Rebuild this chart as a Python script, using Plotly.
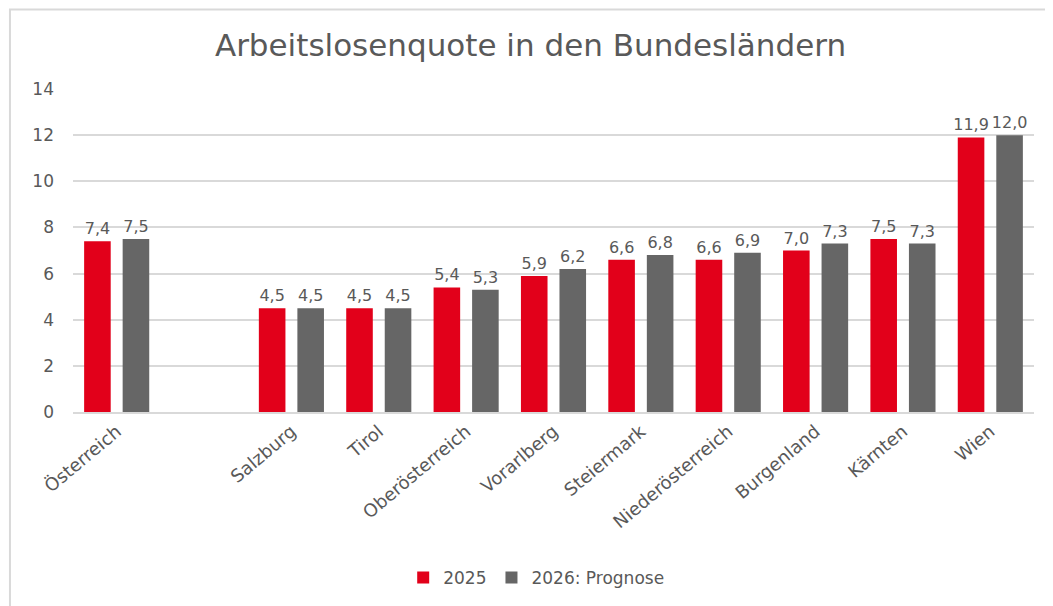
import plotly.graph_objects as go

categories = ["Österreich", " ", "Salzburg", "Tirol", "Oberösterreich", "Vorarlberg",
              "Steiermark", "Niederösterreich", "Burgenland", "Kärnten", "Wien"]
values_2025 = [7.4, None, 4.5, 4.5, 5.4, 5.9, 6.6, 6.6, 7.0, 7.5, 11.9]
values_2026 = [7.5, None, 4.5, 4.5, 5.3, 6.2, 6.8, 6.9, 7.3, 7.3, 12.0]
series_names = ["2025", "2026: Prognose"]
colors = ["#E2001A", "#666666"]
y_ticks = [0, 2, 4, 6, 8, 10, 12, 14]

def fmt(v):
    return "" if v is None else f"{v:.1f}".replace(".", ",")

FONT = "DejaVu Sans, Liberation Sans, Arial, sans-serif"

fig = go.Figure()
for name, vals, col in zip(series_names, [values_2025, values_2026], colors):
    fig.add_trace(go.Bar(
        x=categories, y=vals, name=name,
        marker=dict(color=col, line=dict(width=0)),
        text=[fmt(v) for v in vals], textposition="outside", constraintext="none",
        textfont=dict(size=16, color="#595959"), cliponaxis=False,
    ))

fig.update_layout(
    width=1045, height=598,
    margin=dict(l=65, r=19, t=81, b=193),
    paper_bgcolor="white", plot_bgcolor="white",
    font=dict(family=FONT, color="#595959", size=17),
    title=dict(text="Arbeitslosenquote in den Bundesländern", x=0.5, xanchor="center",
               y=1 - 37 / 598, yanchor="middle", font=dict(size=31, color="#595959")),
    barmode="group", bargap=0.118, bargroupgap=0.31,
    showlegend=True,
    legend=dict(orientation="h", x=0.482, xanchor="center", y=-0.509, yanchor="middle",
                font=dict(size=17, color="#595959"), itemwidth=30),
    xaxis=dict(type="category", categoryorder="array", categoryarray=categories,
               tickangle=-40, showline=True, linecolor="#d9d9d9", linewidth=2,
               tickfont=dict(size=18, color="#595959"), ticks=""),
    yaxis=dict(range=[0, 14], tickvals=y_ticks, showgrid=True, gridcolor="#d9d9d9",
               gridwidth=1.5, zeroline=False, tickfont=dict(size=17, color="#595959"),
               ticks="", ticklabelstandoff=18),
    shapes=[dict(type="rect", xref="paper", yref="paper", x0=-0.0656, x1=1.1,
                 y0=-0.7, y1=1.246, line=dict(color="#d9d9d9", width=2), layer="below")],
)

fig.write_html("out.html")
